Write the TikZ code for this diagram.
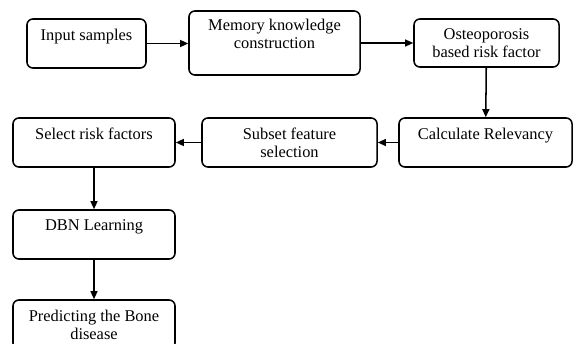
\documentclass[tikz,border=0pt]{standalone}
\usepackage{fontspec}
\setmainfont{Liberation Serif}
\usetikzlibrary{arrows.meta}
\begin{document}
\begin{tikzpicture}[x=0.03cm,y=-0.03cm]
	\tikzstyle{step_box} = [rectangle, draw, rounded corners=5pt, line width=1.3pt, inner sep=0pt, align=center, font=\fontsize{14}{15.5}\selectfont, minimum height=1.47cm]
	\tikzstyle{flow} = [-{Triangle[length=7pt,width=6pt]}, line width=1.3pt]

	\useasboundingbox (0,0) rectangle (573,343);

	% First row
	\node (input) [step_box, minimum width=3.57cm] at (86.5,43.5) {Input samples\\~};
	\node (memory) [step_box, minimum width=5.13cm, minimum height=1.92cm] at (274.5,43) {Memory knowledge\\construction\\~};
	\node (osteo) [step_box, minimum width=4.35cm, minimum height=1.44cm] at (486.5,43) {Osteoporosis\\based risk factor};
	% Second row
	\node (relevancy) [step_box, minimum width=5.19cm] at (485.5,142.5) {Calculate Relevancy\\~};
	\node (subset) [step_box, minimum width=5.25cm] at (289.5,142.5) {Subset feature\\selection};
	\node (select) [step_box, minimum width=4.86cm] at (94,142.5) {Select risk factors\\~};
	% Left column
	\node (dbn) [step_box, minimum width=4.86cm] at (94,234.5) {DBN Learning\\~};
	\node (predict) [step_box, minimum width=4.86cm] at (94,324.5) {Predicting the Bone\\disease};

	\draw[flow] (input) -- (input -| memory.west);
	\draw[flow] (memory.east |- osteo) -- (osteo);
	\draw[flow] (osteo) -- (relevancy);
	\draw[flow] (relevancy) -- (subset);
	\draw[flow] (subset) -- (select);
	\draw[flow] (select) -- (dbn);
	\draw[flow] (dbn) -- (predict);
\end{tikzpicture}
\end{document}
